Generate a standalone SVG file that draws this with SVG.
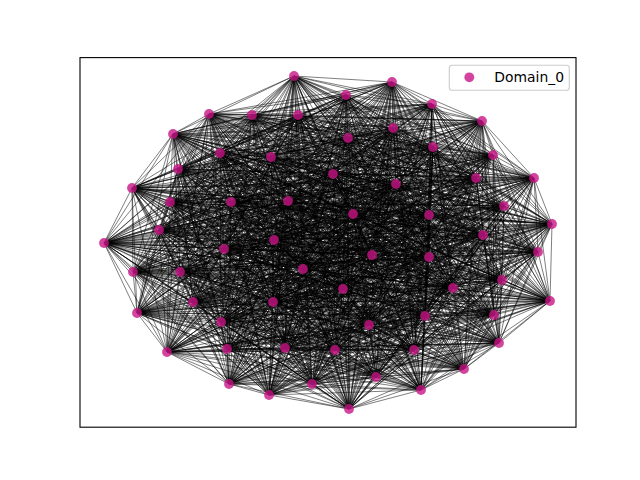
<svg xmlns="http://www.w3.org/2000/svg" width="640" height="480" viewBox="0 0 640 480">
<style>
.e{fill:none;stroke:#000;stroke-opacity:0.5;stroke-width:1;stroke-linejoin:round}
.n{fill:#c71585;fill-opacity:0.8}
.t{font-family:"DejaVu Sans","Liberation Sans",sans-serif;font-size:13.9px;fill:#000}
</style>
<rect width="640" height="480" fill="#fff"/>
<g id="connectors">
<path class="e" d="M294 76L392 82 346 95 432 104 482 121 209 114 252 115 298 115 173 134 393 128 348 138 220 153 433 147 493 155 271 157 178 169 333 174 476 178 534 178 396 184 132 188 170 202 231 202 288 201 504 206 353 214 429 215 552 224 159 230 483 235 274 240 104 243 224 249 538 252 372 255 429 257 303 269 133 272 180 272 502 280 453 288 343 289 550 301 193 302 273 302 137 313 494 315 425 316 221 322 369 325 499 343 285 348 227 349 335 350 414 350 167 352 464 369 376 377 229 384 312 384 421 390 269 395 349 409Z"/>
<path class="e" d="M294 76L346 95 482 121 252 115 173 134 348 138 433 147 271 157 333 174 534 178 132 188 231 202 504 206 429 215 159 230 274 240 224 249 372 255 303 269 180 272 453 288 550 301 273 302 494 315 221 322 499 343 227 349 414 350 464 369 229 384 421 390 349 409 392 82 432 104 209 114 298 115 393 128 220 153 493 155 178 169 476 178 396 184 170 202 288 201 353 214 552 224 483 235 104 243 538 252 429 257 133 272 502 280 343 289 193 302 137 313 425 316 369 325 285 348 335 350 167 352 376 377 312 384 269 395Z"/>
<path class="e" d="M294 76L432 104 252 115 393 128 433 147 178 169 534 178 170 202 504 206 552 224 274 240 538 252 303 269 502 280 550 301 137 313 221 322 285 348 414 350 376 377 421 390Z"/>
<path class="e" d="M392 82L482 121 298 115 348 138 493 155 333 174 396 184 231 202 353 214 159 230 104 243 372 255 133 272 453 288 193 302 494 315 369 325 227 349 167 352 229 384 269 395Z"/>
<path class="e" d="M346 95L209 114 173 134 220 153 271 157 476 178 132 188 288 201 429 215 483 235 224 249 429 257 180 272 343 289 273 302 425 316 499 343 335 350 464 369 312 384 349 409Z"/>
<path class="e" d="M294 76L482 121 173 134 433 147 333 174 132 188 504 206 159 230 224 249 303 269 453 288 273 302 221 322 227 349 464 369 421 390 392 82 209 114 393 128 493 155 476 178 170 202 353 214 483 235 538 252 133 272 343 289 137 313 369 325 335 350 376 377 269 395 346 95 252 115 348 138 271 157 534 178 231 202 429 215 274 240 372 255 180 272 550 301 494 315 499 343 414 350 229 384 349 409 432 104 298 115 220 153 178 169 396 184 288 201 552 224 104 243 429 257 502 280 193 302 425 316 285 348 167 352 312 384Z"/>
<path class="e" d="M294 76L209 114 348 138 178 169 132 188 353 214 274 240 429 257 453 288 137 313 499 343 167 352 421 390 346 95 298 115 433 147 476 178 231 202 552 224 224 249 133 272 550 301 425 316 227 349 376 377 349 409 482 121 393 128 271 157 396 184 504 206 483 235 372 255 502 280 273 302 369 325 414 350 312 384 392 82 252 115 220 153 333 174 170 202 429 215 104 243 303 269 343 289 494 315 285 348 464 369 269 395 432 104 173 134 493 155 534 178 288 201 159 230 538 252 180 272 193 302 221 322 335 350 229 384Z"/>
<path class="e" d="M294 76L252 115 433 147 534 178 504 206 274 240 303 269 550 301 221 322 414 350 421 390 432 104 393 128 178 169 170 202 552 224 538 252 502 280 137 313 285 348 376 377Z"/>
<path class="e" d="M392 82L298 115 493 155 396 184 353 214 104 243 133 272 193 302 369 325 167 352 269 395 482 121 348 138 333 174 231 202 159 230 372 255 453 288 494 315 227 349 229 384Z"/>
<path class="e" d="M346 95L173 134 271 157 132 188 429 215 224 249 180 272 273 302 499 343 464 369 349 409 209 114 220 153 476 178 288 201 483 235 429 257 343 289 425 316 335 350 312 384Z"/>
<path class="e" d="M294 76L298 115 271 157 170 202 159 230 429 257 550 301 369 325 464 369ZM392 82L173 134 178 169 231 202 483 235 303 269 193 302 499 343 376 377ZM346 95L393 128 333 174 288 201 274 240 133 272 273 302 285 348 229 384ZM432 104L348 138 476 178 504 206 104 243 180 272 137 313 227 349 312 384ZM482 121L220 153 534 178 353 214 224 249 502 280 494 315 335 350 421 390ZM209 114L433 147 396 184 429 215 538 252 453 288 425 316 414 350 269 395ZM252 115L493 155 132 188 552 224 372 255 343 289 221 322 167 352 349 409Z"/>
<path class="e" d="M294 76L173 134 333 174 504 206 224 249 453 288 221 322 464 369 392 82 393 128 476 178 353 214 538 252 343 289 369 325 376 377 346 95 348 138 534 178 429 215 372 255 550 301 499 343 229 384 432 104 220 153 396 184 552 224 429 257 193 302 285 348 312 384 482 121 433 147 132 188 159 230 303 269 273 302 227 349 421 390 209 114 493 155 170 202 483 235 133 272 137 313 335 350 269 395 252 115 271 157 231 202 274 240 180 272 494 315 414 350 349 409 298 115 178 169 288 201 104 243 502 280 425 316 167 352Z"/>
<path class="e" d="M294 76L393 128 534 178 552 224 303 269 137 313 414 350ZM392 82L348 138 396 184 159 230 133 272 494 315 167 352ZM346 95L220 153 132 188 483 235 180 272 425 316 464 369ZM432 104L433 147 170 202 274 240 502 280 221 322 376 377ZM482 121L493 155 231 202 104 243 453 288 369 325 229 384ZM209 114L271 157 288 201 224 249 343 289 499 343 312 384ZM252 115L178 169 504 206 538 252 550 301 285 348 421 390ZM298 115L333 174 353 214 372 255 193 302 227 349 269 395ZM173 134L476 178 429 215 429 257 273 302 335 350 349 409Z"/>
<path class="e" d="M294 76L348 138 132 188 274 240 453 288 499 343 421 390 298 115 476 178 552 224 133 272 425 316 376 377 482 121 271 157 504 206 372 255 273 302 414 350 392 82 220 153 170 202 104 243 343 289 285 348 269 395 173 134 534 178 159 230 180 272 221 322 229 384 209 114 178 169 353 214 429 257 137 313 167 352 346 95 433 147 231 202 224 249 550 301 227 349 349 409 393 128 396 184 483 235 502 280 369 325 312 384 252 115 333 174 429 215 303 269 494 315 464 369 432 104 493 155 288 201 538 252 193 302 335 350Z"/>
<path class="e" d="M294 76L220 153 231 202 538 252 273 302 167 352 432 104 271 157 353 214 303 269 425 316 229 384 252 115 476 178 159 230 502 280 499 343 269 395 393 128 132 188 104 243 550 301 335 350 392 82 433 147 288 201 372 255 137 313 464 369 482 121 178 169 429 215 133 272 221 322 312 384 298 115 534 178 483 235 453 288 285 348 349 409 348 138 170 202 224 249 193 302 414 350 346 95 493 155 504 206 429 257 494 315 376 377 209 114 333 174 552 224 180 272 369 325 421 390 173 134 396 184 274 240 343 289 227 349Z"/>
<path class="e" d="M294 76L433 147 504 206 303 269 221 322 421 390 393 128 170 202 538 252 137 313 376 377 252 115 534 178 274 240 550 301 414 350 432 104 178 169 552 224 502 280 285 348ZM392 82L493 155 353 214 133 272 369 325 269 395 348 138 231 202 372 255 494 315 229 384 298 115 396 184 104 243 193 302 167 352 482 121 333 174 159 230 453 288 227 349ZM346 95L271 157 429 215 180 272 499 343 349 409 220 153 288 201 429 257 425 316 312 384 173 134 132 188 224 249 273 302 464 369 209 114 476 178 483 235 343 289 335 350Z"/>
<path class="e" d="M294 76L493 155 429 215 502 280 227 349 346 95 178 169 159 230 343 289 414 350 482 121 476 178 274 240 193 302 464 369 252 115 396 184 224 249 137 313 229 384 173 134 170 202 372 255 425 316 421 390 348 138 288 201 303 269 369 325 349 409 433 147 353 214 180 272 285 348 392 82 271 157 552 224 453 288 335 350 432 104 333 174 483 235 550 301 167 352 209 114 534 178 104 243 273 302 376 377 298 115 132 188 538 252 494 315 312 384 393 128 231 202 429 257 221 322 269 395 220 153 504 206 133 272 499 343Z"/>
<path class="e" d="M294 76L271 157 159 230 550 301 464 369 298 115 170 202 429 257 369 325ZM392 82L178 169 483 235 193 302 376 377 173 134 231 202 303 269 499 343ZM346 95L333 174 274 240 273 302 229 384 393 128 288 201 133 272 285 348ZM432 104L476 178 104 243 137 313 312 384 348 138 504 206 180 272 227 349ZM482 121L534 178 224 249 494 315 421 390 220 153 353 214 502 280 335 350ZM209 114L396 184 538 252 425 316 269 395 433 147 429 215 453 288 414 350ZM252 115L132 188 372 255 221 322 349 409 493 155 552 224 343 289 167 352Z"/>
<path class="e" d="M294 76L178 169 274 240 137 313 421 390 433 147 552 224 550 301 376 377 393 128 504 206 502 280 414 350 252 115 170 202 303 269 285 348 432 104 534 178 538 252 221 322ZM392 82L333 174 104 243 494 315 269 395 493 155 159 230 193 302 229 384 348 138 353 214 453 288 167 352 298 115 231 202 133 272 227 349 482 121 396 184 372 255 369 325ZM346 95L476 178 224 249 425 316 349 409 271 157 483 235 273 302 312 384 220 153 429 215 343 289 464 369 173 134 288 201 180 272 335 350 209 114 132 188 429 257 499 343Z"/>
<path class="e" d="M294 76L476 178 372 255 285 348 209 114 231 202 502 280 464 369 348 138 552 224 273 302 269 395 178 169 224 249 369 325 432 104 132 188 133 272 414 350 173 134 353 214 550 301 312 384 493 155 274 240 425 316 392 82 534 178 429 257 227 349 252 115 288 201 453 288 376 377 220 153 159 230 137 313 349 409 333 174 538 252 499 343 482 121 170 202 180 272 167 352 393 128 429 215 193 302 421 390 271 157 104 243 221 322 346 95 396 184 303 269 335 350 298 115 504 206 343 289 229 384 433 147 483 235 494 315Z"/>
<path class="e" d="M294 76L534 178 303 269 414 350 393 128 552 224 137 313ZM392 82L396 184 133 272 167 352 348 138 159 230 494 315ZM346 95L132 188 180 272 464 369 220 153 483 235 425 316ZM432 104L170 202 502 280 376 377 433 147 274 240 221 322ZM482 121L231 202 453 288 229 384 493 155 104 243 369 325ZM209 114L288 201 343 289 312 384 271 157 224 249 499 343ZM252 115L504 206 550 301 421 390 178 169 538 252 285 348ZM298 115L353 214 193 302 269 395 333 174 372 255 227 349ZM173 134L429 215 273 302 349 409 476 178 429 257 335 350Z"/>
<path class="e" d="M294 76L396 184 180 272 376 377 493 155 224 249 285 348 298 115 429 215 137 313 392 82 132 188 502 280 229 384 271 157 538 252 227 349 173 134 552 224 494 315 346 95 170 202 453 288 312 384 178 169 372 255 335 350 393 128 159 230 425 316 432 104 231 202 343 289 421 390 333 174 429 257 414 350 348 138 483 235 221 322 482 121 288 201 550 301 269 395 476 178 303 269 167 352 220 153 274 240 369 325 209 114 504 206 193 302 349 409 534 178 133 272 464 369 433 147 104 243 499 343 252 115 353 214 273 302Z"/>
<path class="e" d="M294 76L170 202 550 301ZM392 82L231 202 193 302ZM346 95L288 201 273 302ZM432 104L504 206 137 313ZM482 121L353 214 494 315ZM209 114L429 215 425 316ZM252 115L552 224 221 322ZM298 115L159 230 369 325ZM173 134L483 235 499 343ZM393 128L274 240 285 348ZM348 138L104 243 227 349ZM220 153L224 249 335 350ZM433 147L538 252 414 350ZM493 155L372 255 167 352ZM271 157L429 257 464 369ZM178 169L303 269 376 377ZM333 174L133 272 229 384ZM476 178L180 272 312 384ZM534 178L502 280 421 390ZM396 184L453 288 269 395ZM132 188L343 289 349 409Z"/>
<path class="e" d="M294 76L288 201 494 315 252 115 483 235 227 349 433 147 429 257 229 384 534 178 343 289 392 82 504 206 425 316 298 115 274 240 335 350 493 155 303 269 312 384 396 184 550 301 346 95 353 214 221 322 173 134 104 243 414 350 271 157 133 272 421 390 132 188 193 302 432 104 429 215 369 325 393 128 224 249 167 352 178 169 180 272 269 395 170 202 273 302 482 121 552 224 499 343 348 138 538 252 464 369 333 174 502 280 349 409 231 202 137 313 209 114 159 230 285 348 220 153 372 255 376 377 476 178 453 288Z"/>
<path class="e" d="M294 76L504 206 221 322 393 128 538 252 376 377 534 178 550 301 432 104 552 224 285 348 433 147 303 269 421 390 170 202 137 313 252 115 274 240 414 350 178 169 502 280ZM392 82L353 214 369 325 348 138 372 255 229 384 396 184 193 302 482 121 159 230 227 349 493 155 133 272 269 395 231 202 494 315 298 115 104 243 167 352 333 174 453 288ZM346 95L429 215 499 343 220 153 429 257 312 384 132 188 273 302 209 114 483 235 335 350 271 157 180 272 349 409 288 201 425 316 173 134 224 249 464 369 476 178 343 289Z"/>
<path class="e" d="M294 76L353 214 499 343 433 147 133 272 349 409 504 206 369 325 220 153 303 269 269 395 288 201 221 322 348 138 429 257 421 390 231 202 425 316 393 128 372 255 312 384 170 202 494 315 173 134 538 252 229 384 132 188 137 313 298 115 224 249 376 377 396 184 273 302 252 115 104 243 464 369 534 178 193 302 209 114 274 240 167 352 476 178 550 301 482 121 483 235 414 350 333 174 343 289 432 104 159 230 335 350 178 169 453 288 346 95 552 224 227 349 271 157 502 280 392 82 429 215 285 348 493 155 180 272Z"/>
<path class="e" d="M294 76L429 215 227 349 178 169 343 289 482 121 274 240 464 369 396 184 137 313 173 134 372 255 421 390 288 201 369 325 433 147 180 272 392 82 552 224 335 350 333 174 550 301 209 114 104 243 376 377 132 188 494 315 393 128 429 257 269 395 504 206 499 343 493 155 502 280 346 95 159 230 414 350 476 178 193 302 252 115 224 249 229 384 170 202 425 316 348 138 303 269 349 409 353 214 285 348 271 157 453 288 432 104 483 235 167 352 534 178 273 302 298 115 538 252 312 384 231 202 221 322 220 153 133 272Z"/>
<path class="e" d="M294 76L552 224 414 350 534 178 137 313 393 128 303 269ZM392 82L159 230 167 352 396 184 494 315 348 138 133 272ZM346 95L483 235 464 369 132 188 425 316 220 153 180 272ZM432 104L274 240 376 377 170 202 221 322 433 147 502 280ZM482 121L104 243 229 384 231 202 369 325 493 155 453 288ZM209 114L224 249 312 384 288 201 499 343 271 157 343 289ZM252 115L538 252 421 390 504 206 285 348 178 169 550 301ZM298 115L372 255 269 395 353 214 227 349 333 174 193 302ZM173 134L429 257 349 409 429 215 335 350 476 178 273 302Z"/>
<path class="e" d="M294 76L159 230 464 369 170 202 369 325 271 157 550 301 298 115 429 257ZM392 82L483 235 376 377 231 202 499 343 178 169 193 302 173 134 303 269ZM346 95L274 240 229 384 288 201 285 348 333 174 273 302 393 128 133 272ZM432 104L104 243 312 384 504 206 227 349 476 178 137 313 348 138 180 272ZM482 121L224 249 421 390 353 214 335 350 534 178 494 315 220 153 502 280ZM209 114L538 252 269 395 429 215 414 350 396 184 425 316 433 147 453 288ZM252 115L372 255 349 409 552 224 167 352 132 188 221 322 493 155 343 289Z"/>
<path class="e" d="M294 76L483 235 229 384 504 206 335 350 396 184 221 322 271 157 193 302 393 128 180 272 482 121 538 252 349 409 159 230 376 377 288 201 227 349 534 178 425 316 493 155 550 301 173 134 133 272 432 104 224 249 269 395 552 224 464 369 231 202 285 348 476 178 494 315 433 147 343 289 298 115 303 269 346 95 104 243 421 390 429 215 167 352 170 202 499 343 333 174 137 313 220 153 453 288 252 115 429 257 392 82 274 240 312 384 353 214 414 350 132 188 369 325 178 169 273 302 348 138 502 280 209 114 372 255Z"/>
<path class="e" d="M294 76L274 240 421 390 552 224 376 377 504 206 414 350 170 202 285 348 534 178 221 322 178 169 137 313 433 147 550 301 393 128 502 280 252 115 303 269 432 104 538 252ZM392 82L104 243 269 395 159 230 229 384 353 214 167 352 231 202 227 349 396 184 369 325 333 174 494 315 493 155 193 302 348 138 453 288 298 115 133 272 482 121 372 255ZM346 95L224 249 349 409 483 235 312 384 429 215 464 369 288 201 335 350 132 188 499 343 476 178 425 316 271 157 273 302 220 153 343 289 173 134 180 272 209 114 429 257Z"/>
<path class="e" d="M294 76L104 243 349 409 274 240 269 395 483 235 421 390 159 230 312 384 552 224 229 384 429 215 376 377 353 214 464 369 504 206 167 352 288 201 414 350 231 202 335 350 170 202 227 349 132 188 285 348 396 184 499 343 534 178 369 325 476 178 221 322 333 174 425 316 178 169 494 315 271 157 137 313 493 155 273 302 433 147 193 302 220 153 550 301 348 138 343 289 393 128 453 288 173 134 502 280 298 115 180 272 252 115 133 272 209 114 303 269 482 121 429 257 432 104 372 255 346 95 538 252 392 82 224 249Z"/>
</g>
<g id="nodes">
<g id="n0"><circle class="n" cx="294" cy="76" r="4.9"/></g>
<g id="n1"><circle class="n" cx="392" cy="82" r="4.9"/></g>
<g id="n2"><circle class="n" cx="346" cy="95" r="4.9"/></g>
<g id="n3"><circle class="n" cx="432" cy="104" r="4.9"/></g>
<g id="n4"><circle class="n" cx="482" cy="121" r="4.9"/></g>
<g id="n5"><circle class="n" cx="209" cy="114" r="4.9"/></g>
<g id="n6"><circle class="n" cx="252" cy="115" r="4.9"/></g>
<g id="n7"><circle class="n" cx="298" cy="115" r="4.9"/></g>
<g id="n8"><circle class="n" cx="173" cy="134" r="4.9"/></g>
<g id="n9"><circle class="n" cx="393" cy="128" r="4.9"/></g>
<g id="n10"><circle class="n" cx="348" cy="138" r="4.9"/></g>
<g id="n11"><circle class="n" cx="220" cy="153" r="4.9"/></g>
<g id="n12"><circle class="n" cx="433" cy="147" r="4.9"/></g>
<g id="n13"><circle class="n" cx="493" cy="155" r="4.9"/></g>
<g id="n14"><circle class="n" cx="271" cy="157" r="4.9"/></g>
<g id="n15"><circle class="n" cx="178" cy="169" r="4.9"/></g>
<g id="n16"><circle class="n" cx="333" cy="174" r="4.9"/></g>
<g id="n17"><circle class="n" cx="476" cy="178" r="4.9"/></g>
<g id="n18"><circle class="n" cx="534" cy="178" r="4.9"/></g>
<g id="n19"><circle class="n" cx="396" cy="184" r="4.9"/></g>
<g id="n20"><circle class="n" cx="132" cy="188" r="4.9"/></g>
<g id="n21"><circle class="n" cx="170" cy="202" r="4.9"/></g>
<g id="n22"><circle class="n" cx="231" cy="202" r="4.9"/></g>
<g id="n23"><circle class="n" cx="288" cy="201" r="4.9"/></g>
<g id="n24"><circle class="n" cx="504" cy="206" r="4.9"/></g>
<g id="n25"><circle class="n" cx="353" cy="214" r="4.9"/></g>
<g id="n26"><circle class="n" cx="429" cy="215" r="4.9"/></g>
<g id="n27"><circle class="n" cx="552" cy="224" r="4.9"/></g>
<g id="n28"><circle class="n" cx="159" cy="230" r="4.9"/></g>
<g id="n29"><circle class="n" cx="483" cy="235" r="4.9"/></g>
<g id="n30"><circle class="n" cx="274" cy="240" r="4.9"/></g>
<g id="n31"><circle class="n" cx="104" cy="243" r="4.9"/></g>
<g id="n32"><circle class="n" cx="224" cy="249" r="4.9"/></g>
<g id="n33"><circle class="n" cx="538" cy="252" r="4.9"/></g>
<g id="n34"><circle class="n" cx="372" cy="255" r="4.9"/></g>
<g id="n35"><circle class="n" cx="429" cy="257" r="4.9"/></g>
<g id="n36"><circle class="n" cx="303" cy="269" r="4.9"/></g>
<g id="n37"><circle class="n" cx="133" cy="272" r="4.9"/></g>
<g id="n38"><circle class="n" cx="180" cy="272" r="4.9"/></g>
<g id="n39"><circle class="n" cx="502" cy="280" r="4.9"/></g>
<g id="n40"><circle class="n" cx="453" cy="288" r="4.9"/></g>
<g id="n41"><circle class="n" cx="343" cy="289" r="4.9"/></g>
<g id="n42"><circle class="n" cx="550" cy="301" r="4.9"/></g>
<g id="n43"><circle class="n" cx="193" cy="302" r="4.9"/></g>
<g id="n44"><circle class="n" cx="273" cy="302" r="4.9"/></g>
<g id="n45"><circle class="n" cx="137" cy="313" r="4.9"/></g>
<g id="n46"><circle class="n" cx="494" cy="315" r="4.9"/></g>
<g id="n47"><circle class="n" cx="425" cy="316" r="4.9"/></g>
<g id="n48"><circle class="n" cx="221" cy="322" r="4.9"/></g>
<g id="n49"><circle class="n" cx="369" cy="325" r="4.9"/></g>
<g id="n50"><circle class="n" cx="499" cy="343" r="4.9"/></g>
<g id="n51"><circle class="n" cx="285" cy="348" r="4.9"/></g>
<g id="n52"><circle class="n" cx="227" cy="349" r="4.9"/></g>
<g id="n53"><circle class="n" cx="335" cy="350" r="4.9"/></g>
<g id="n54"><circle class="n" cx="414" cy="350" r="4.9"/></g>
<g id="n55"><circle class="n" cx="167" cy="352" r="4.9"/></g>
<g id="n56"><circle class="n" cx="464" cy="369" r="4.9"/></g>
<g id="n57"><circle class="n" cx="376" cy="377" r="4.9"/></g>
<g id="n58"><circle class="n" cx="229" cy="384" r="4.9"/></g>
<g id="n59"><circle class="n" cx="312" cy="384" r="4.9"/></g>
<g id="n60"><circle class="n" cx="421" cy="390" r="4.9"/></g>
<g id="n61"><circle class="n" cx="269" cy="395" r="4.9"/></g>
<g id="n62"><circle class="n" cx="349" cy="409" r="4.9"/></g>
</g>
<rect x="80" y="57.6" width="496" height="369.6" fill="none" stroke="#000" stroke-width="1.1"/>
<g id="legend">
<rect x="449.3" y="65.3" width="120" height="25" rx="2.8" fill="#fff" fill-opacity="0.8" stroke="#ccc" stroke-width="1.1"/>
<circle class="n" cx="469.3" cy="77.3" r="4.9"/>
<text class="t" x="494.3" y="82.3">Domain_0</text>
</g>
</svg>
